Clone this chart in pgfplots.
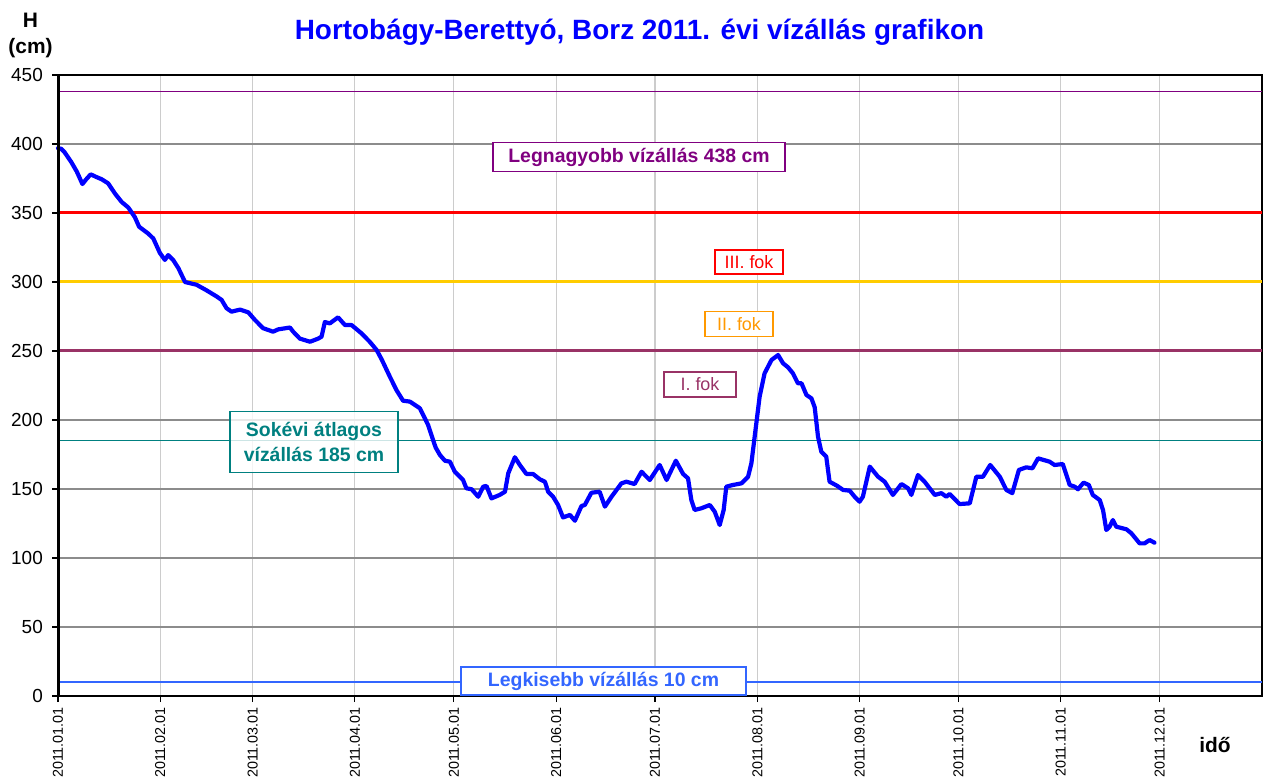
\documentclass[border=0pt]{standalone}
\usepackage{pgfplots}
\pgfplotsset{compat=1.18}
\usepackage{fontspec}
\setmainfont{Liberation Sans}
\definecolor{curve}{HTML}{0000FF}
\definecolor{cmax}{HTML}{800080}
\definecolor{cIII}{HTML}{FF0000}
\definecolor{cIIline}{HTML}{FFCC00}
\definecolor{cIItext}{HTML}{FF9900}
\definecolor{cI}{HTML}{993366}
\definecolor{cavg}{HTML}{008080}
\definecolor{cmin}{HTML}{3366FF}
\definecolor{hgrid}{HTML}{8C8C8C}
\definecolor{vgrid}{HTML}{CCCCCC}
\pgfplotstableread{
d v
0 397
1 396.5
2 394
4 387
5.7 380
7.4 371
8.4 374
9.9 378
11.7 376
13.2 374.5
15.2 371.5
17.3 364
19.3 358
21.3 354
23.3 347
24.6 340
27.4 335
28.9 331.5
30.9 321
32.4 316
33.4 319.5
34.9 316
36.5 310
38.5 300
42 298
45 294
48.1 289.5
49.6 287
51.1 281
52.6 278.5
55.2 280
57.7 278
59.7 272.5
62.2 266.5
65.2 264
66.8 265.7
70.3 267
71.3 264
73.3 259
76.4 256.7
78.9 259
79.9 260.4
80.9 271
82.4 270
84.9 274.4
87 268.8
89 268.8
92 262.8
94.5 256.7
96.6 250.7
98.1 244
100.6 231.4
102.6 221.7
104.6 214
106.7 213.3
109.7 208.5
112.2 196.4
113.7 185.5
114.5 180
115.8 174.6
117.3 170.5
118.8 169.8
120.3 162.5
121.8 158.9
122.8 156.5
123.8 150.5
125.4 149.8
127.4 144.4
128.9 151.7
129.9 152.2
131.4 143.2
133.9 145.7
135.5 148
136.5 161.4
138.5 173
140 167.4
142 160.9
144 160.9
146.1 157
147.6 155.3
148.6 148
150.1 144.4
151.6 138.4
153.1 129.4
155.2 131.2
156.7 127
158.7 137.7
159.7 138.4
161.7 147.3
164.2 148
165.8 137.2
167.8 144.4
170.8 154.1
172.3 155.3
174.8 153.6
176.9 162.5
179.4 156.5
182.4 167.4
184.5 156.5
187.3 170.5
189.5 160.9
191 157.7
192 142
193 134.8
195 136
197.6 138.4
199.1 133.5
200.6 123.9
201.8 134.8
202.6 151.7
204.6 152.9
207.2 154.1
209.2 158.9
210.2 168.6
211.2 187.9
212.7 216.9
214.2 233.8
216.3 243.5
218.3 247.1
219.8 241.1
221.3 238.2
222.8 233.8
224.3 226.6
225.4 226.6
226.9 218.1
228.4 215.7
229.4 209.2
230.4 187.9
231.4 177
232.9 173.4
233.9 155.3
236.2 152.3
238 149.3
240 148.8
241.5 144.4
243 140.8
244 144.4
246.1 166.2
248.6 158.9
250.6 155.3
253.1 145.7
255.7 153.6
257.7 150.5
258.7 145.7
260.7 160.1
262.7 155.3
265.8 145.7
267.8 147
269.3 144.4
270.3 146.4
273.3 139.1
276.4 139.6
278.4 158.9
280.4 158.9
282.6 167.4
285.5 158.9
287.5 149.3
289.3 147
291.3 163.8
293.5 165.7
295.4 165
297.1 172.2
300.6 169.8
302.1 167.4
304.6 168.1
306.7 152.9
308.2 151.7
309.2 149.8
310.9 154.6
312.5 152.9
313.7 145.7
315.8 142
316.8 134.8
317.8 120.3
318.8 122.7
319.8 127.5
320.8 122.7
323.9 120.8
325.4 117.9
327.9 110.6
329.4 110.6
330.9 113
332.4 111.1
}\level
\begin{document}
\begin{tikzpicture}
\begin{axis}[
  at={(58bp,86bp)}, anchor=south west,
  scale only axis, width=1204bp, height=621bp,
  xmin=0, xmax=365, ymin=0, ymax=450,
  xtick={0,31,59,90,120,151,181,212,243,273,304,334},
  xticklabels={2011.01.01,2011.02.01,2011.03.01,2011.04.01,2011.05.01,2011.06.01,2011.07.01,2011.08.01,2011.09.01,2011.10.01,2011.11.01,2011.12.01},
  ytick={0,50,...,450},
  xtick pos=bottom, ytick pos=left,
  /pgf/number format/assume math mode=true,
  tick align=outside,
  major tick length=6bp,
  tick style={black, line width=1.2bp},
  xmajorgrids, ymajorgrids,
  x grid style={vgrid, line width=1.2bp},
  y grid style={hgrid, line width=1.2bp},
  axis line style={black, line width=2bp},
  xticklabel style={rotate=90, anchor=east, inner sep=0pt, font=\fontsize{14.4}{14.4}\selectfont},
  yticklabel style={anchor=east, inner sep=0pt, font=\fontsize{19}{19}\selectfont},
  xticklabel shift=5bp,
  yticklabel shift=9bp,
  clip=false,
]
\addplot[cmax, line width=1.8bp] coordinates {(0,438) (365,438)};
\addplot[cIII, line width=3bp] coordinates {(0,350) (365,350)};
\addplot[cIIline, line width=3bp] coordinates {(0,300) (365,300)};
\addplot[cI, line width=3bp] coordinates {(0,250) (365,250)};
\addplot[cavg, line width=1.5bp] coordinates {(0,185) (365,185)};
\addplot[cmin, line width=1.5bp] coordinates {(0,10) (365,10)};
\addplot[curve, line width=4.2bp, line join=round, line cap=round] table[x=d, y=v] {\level};
\end{axis}
\draw[black, line width=3bp] (58bp,85bp) -- (58bp,707bp);
\draw[black, line width=2.5bp] (57bp,86bp) -- (1262bp,86bp);
% labels
\node[anchor=base, text=curve, font=\bfseries\fontsize{28}{28}\selectfont] at (639.5bp,742.7bp) {Hortobágy-Berettyó, Borz 2011. évi vízállás grafikon};
\node[anchor=base, font=\bfseries\fontsize{21}{21}\selectfont] at (30.5bp,754bp) {H};
\node[anchor=base, font=\bfseries\fontsize{21}{21}\selectfont] at (30.5bp,728bp) {(cm)};
\node[font=\bfseries\fontsize{21}{21}\selectfont] at (1215bp,37bp) {idő};
\node[draw=cmax, line width=1.5bp, fill=white, text=cmax, font=\bfseries\fontsize{19.5}{23}\selectfont, minimum width=292bp, minimum height=29bp, inner sep=0pt] at (639bp,625bp) {Legnagyobb vízállás 438 cm};
\node[draw=cIII, line width=1.5bp, fill=white, text=cIII, font=\fontsize{18}{20}\selectfont, minimum width=68bp, minimum height=24bp, inner sep=0pt] at (749bp,520bp) {III. fok};
\node[draw=cIItext, line width=1.5bp, fill=white, text=cIItext, font=\fontsize{18}{20}\selectfont, minimum width=68bp, minimum height=25bp, inner sep=0pt] at (739bp,458bp) {II. fok};
\node[draw=cI, line width=1.5bp, fill=white, text=cI, font=\fontsize{18}{20}\selectfont, minimum width=72bp, minimum height=25bp, inner sep=0pt] at (700bp,397.5bp) {I. fok};
\node[draw=cavg, draw opacity=1, line width=1.5bp, fill=white, fill opacity=0.8, text opacity=1, text=cavg, font=\bfseries\fontsize{19.5}{24.5}\selectfont, minimum width=168bp, minimum height=61bp, inner sep=0pt, align=center] at (314bp,340bp) {Sokévi átlagos\\vízállás 185 cm};
\node[draw=cmin, line width=1.5bp, fill=white, text=cmin, font=\bfseries\fontsize{19.5}{23}\selectfont, minimum width=285bp, minimum height=28bp, inner sep=0pt] at (603.5bp,101bp) {Legkisebb vízállás 10 cm};
\pgfresetboundingbox
\path[use as bounding box] (0,0) rectangle (1265bp,782bp);
\end{tikzpicture}
\end{document}
